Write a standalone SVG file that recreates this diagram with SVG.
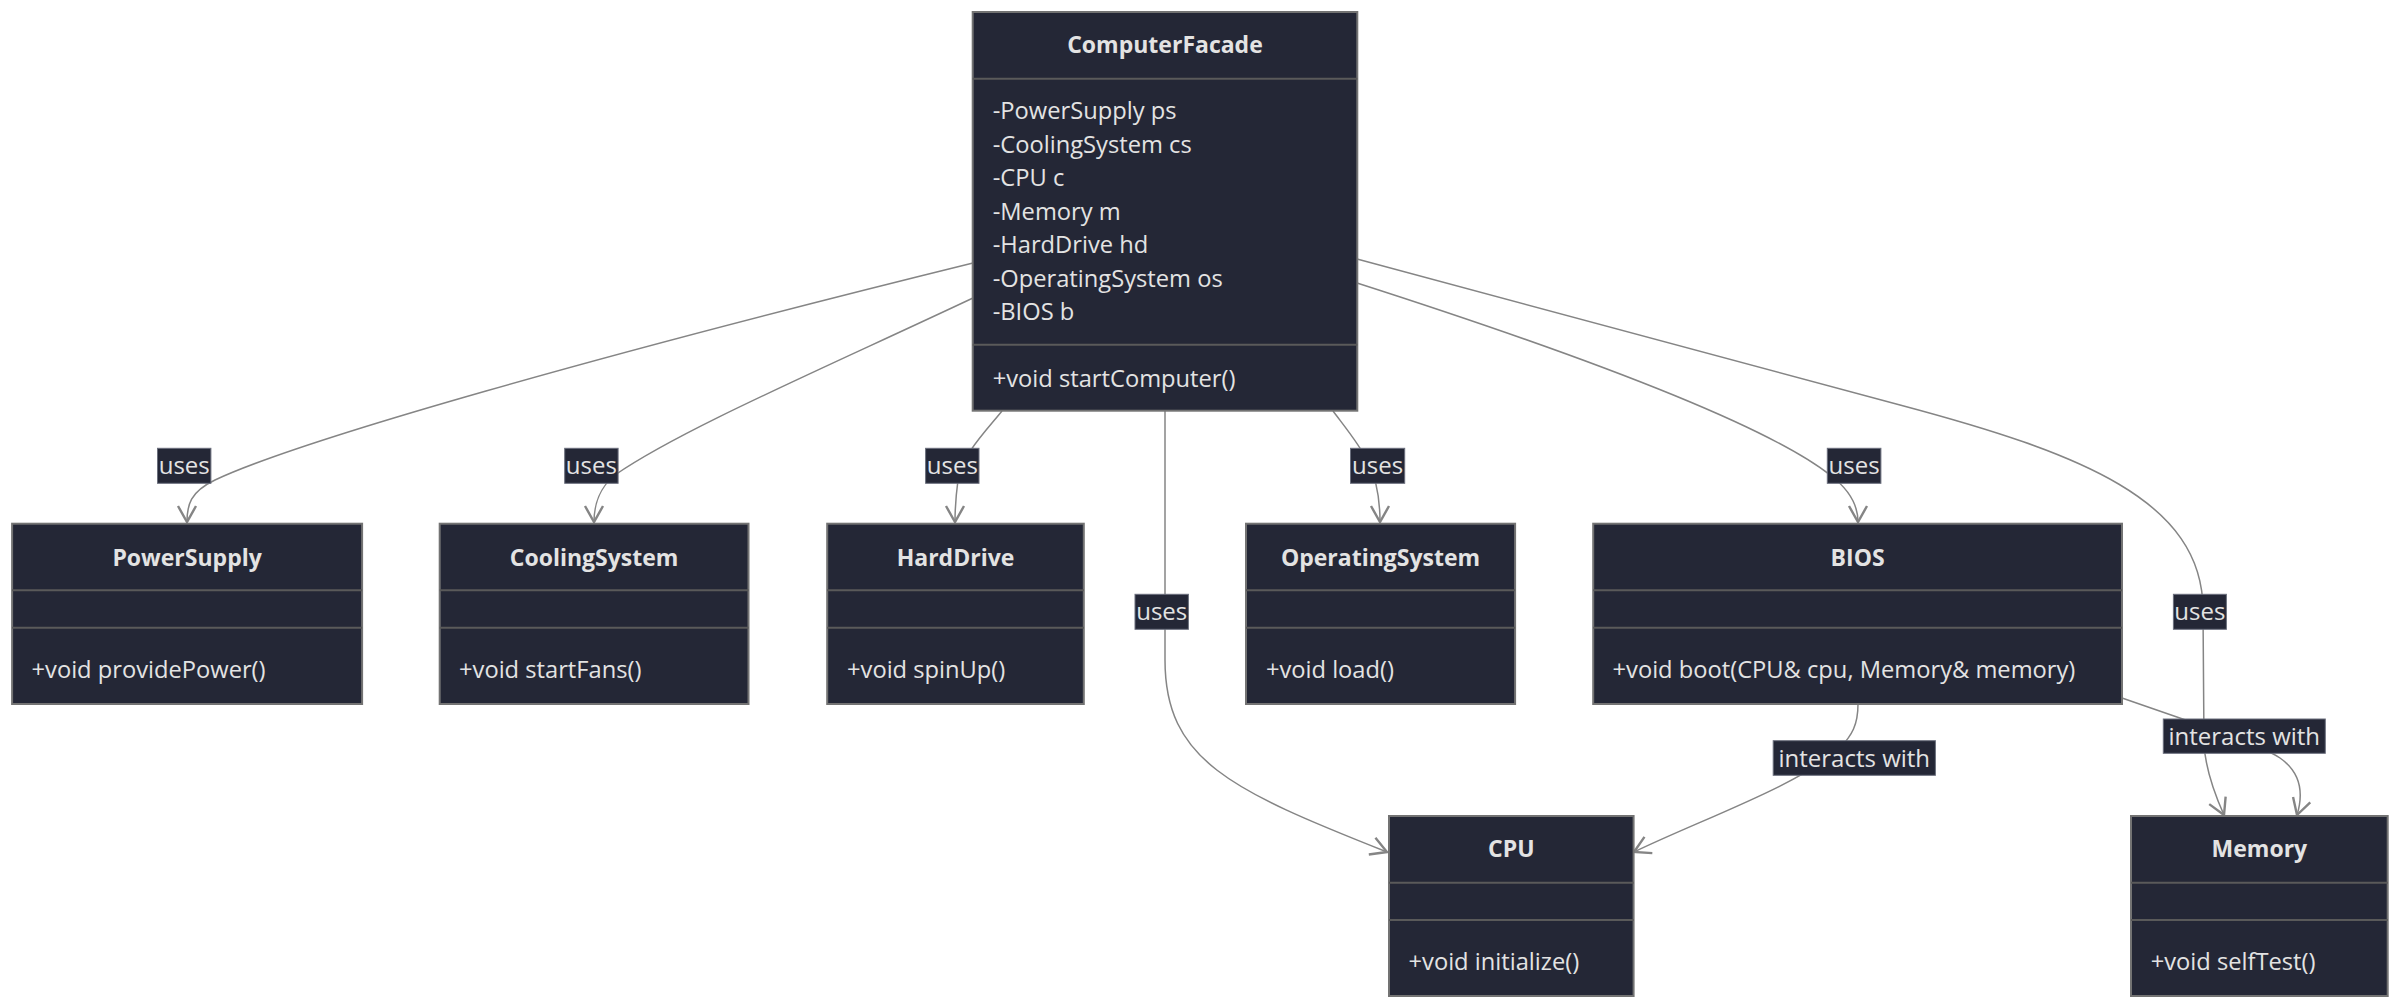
<svg xmlns="http://www.w3.org/2000/svg" width="2400" height="1008" viewBox="0 0 2400 1008">
<defs>
<marker id="arr" viewBox="-2 -2 22 24" markerWidth="22" markerHeight="24" refX="16" refY="10" orient="auto" markerUnits="userSpaceOnUse">
<path d="M0,1 L16,10 L0,19" fill="none" stroke="#858585" stroke-width="2.4"/>
</marker>
</defs>
<style>
.box{fill:#242736;stroke:#737373;stroke-width:2}
.div{stroke:#5a5a5a;stroke-width:2}
.t{font-family:"Open Sans","Noto Sans","DejaVu Sans",sans-serif;font-size:23.7px;fill:#e3e3e3}
.b{font-weight:bold;text-anchor:middle;font-size:23px}
.e{fill:none;stroke:#858585;stroke-width:1.5}
.lb{fill:#242736;stroke:#6b6f7d;stroke-width:1}
.lt{font-family:"Open Sans","Noto Sans","DejaVu Sans",sans-serif;font-size:24px;fill:#e3e3e3;text-anchor:middle}
</style>
<rect width="2400" height="1008" fill="#ffffff"/>
<g id="connectors">
<path class="e" marker-end="url(#arr)" d="M973,263 C600,355 300,440 215,480 C190,492 187,505 187,522"/>
<path class="e" marker-end="url(#arr)" d="M973,298 C820,370 680,430 615,475 C600,487 594,505 594,522"/>
<path class="e" marker-end="url(#arr)" d="M1002,411 C985,432 962,455 958,480 C956,495 955,510 955,522"/>
<path class="e" marker-end="url(#arr)" d="M1165,411 L1165,660 C1165,760 1230,790 1387,852"/>
<path class="e" marker-end="url(#arr)" d="M1333,411 C1345,427 1360,445 1368,462 C1376,478 1380,500 1380,522"/>
<path class="e" marker-end="url(#arr)" d="M1357,283 C1550,345 1760,420 1830,475 C1850,490 1858,505 1858,522"/>
<path class="e" marker-end="url(#arr)" d="M1357,259 L1900,405 C2080,453 2203,500 2203,610 L2204,745 C2206,772 2215,795 2224,815"/>
<path class="e" marker-end="url(#arr)" d="M1858,704 C1858,725 1852,735 1840,748 C1800,785 1700,820 1634,852"/>
<path class="e" marker-end="url(#arr)" d="M2122,698 L2200,725 C2240,740 2265,748 2280,758 C2300,772 2304,792 2297,815"/>
<g id="edge-labels">
<rect class="lb" x="157.5" y="448.3" width="53.4" height="35"/><text class="lt" x="184.2" y="474">uses</text>
<rect class="lb" x="564.7" y="448.3" width="53.4" height="35"/><text class="lt" x="591.4" y="474">uses</text>
<rect class="lb" x="925.6" y="448.3" width="53.4" height="35"/><text class="lt" x="952.3" y="474">uses</text>
<rect class="lb" x="1135" y="594.3" width="53.4" height="35"/><text class="lt" x="1161.7" y="620">uses</text>
<rect class="lb" x="1350.5" y="448.3" width="54.2" height="35"/><text class="lt" x="1377.6" y="474">uses</text>
<rect class="lb" x="1827.3" y="448.3" width="53.6" height="35"/><text class="lt" x="1854.1" y="474">uses</text>
<rect class="lb" x="2173.4" y="594.3" width="53" height="35"/><text class="lt" x="2199.9" y="620">uses</text>
<rect class="lb" x="1773.2" y="740.7" width="162.2" height="34.6"/><text class="lt" x="1854.3" y="766.5">interacts with</text>
<rect class="lb" x="2163.3" y="719" width="162" height="34.3"/><text class="lt" x="2244.3" y="744.7">interacts with</text>
</g>
</g>
<g id="ComputerFacade">
<rect class="box" x="972.7" y="12" width="384.6" height="398.7"/>
<line class="div" x1="972.7" y1="78.7" x2="1357.3" y2="78.7"/>
<line class="div" x1="972.7" y1="344.7" x2="1357.3" y2="344.7"/>
<text class="t b" x="1165" y="53">ComputerFacade</text>
<text class="t" x="992.7" y="119">-PowerSupply ps</text>
<text class="t" x="992.7" y="152.5">-CoolingSystem cs</text>
<text class="t" x="992.7" y="186">-CPU c</text>
<text class="t" x="992.7" y="219.5">-Memory m</text>
<text class="t" x="992.7" y="253">-HardDrive hd</text>
<text class="t" x="992.7" y="286.5">-OperatingSystem os</text>
<text class="t" x="992.7" y="320">-BIOS b</text>
<text class="t" x="992.7" y="386.7">+void startComputer()</text>
</g>
<g id="PowerSupply">
<rect class="box" x="12.1" y="523.7" width="350" height="180.3"/>
<line class="div" x1="12.1" y1="590.3" x2="362.1" y2="590.3"/>
<line class="div" x1="12.1" y1="627.7" x2="362.1" y2="627.7"/>
<text class="t b" x="187.1" y="565.7">PowerSupply</text>
<text class="t" x="31.5" y="678.3">+void providePower()</text>
</g>
<g id="CoolingSystem">
<rect class="box" x="439.7" y="523.7" width="308.8" height="180.3"/>
<line class="div" x1="439.7" y1="590.3" x2="748.5" y2="590.3"/>
<line class="div" x1="439.7" y1="627.7" x2="748.5" y2="627.7"/>
<text class="t b" x="594.1" y="565.7">CoolingSystem</text>
<text class="t" x="459" y="678.3">+void startFans()</text>
</g>
<g id="HardDrive">
<rect class="box" x="827.2" y="523.7" width="256.6" height="180.3"/>
<line class="div" x1="827.2" y1="590.3" x2="1083.8" y2="590.3"/>
<line class="div" x1="827.2" y1="627.7" x2="1083.8" y2="627.7"/>
<text class="t b" x="955.5" y="565.7">HardDrive</text>
<text class="t" x="847" y="678.3">+void spinUp()</text>
</g>
<g id="OperatingSystem">
<rect class="box" x="1246" y="523.7" width="269.1" height="180.3"/>
<line class="div" x1="1246" y1="590.3" x2="1515.1" y2="590.3"/>
<line class="div" x1="1246" y1="627.7" x2="1515.1" y2="627.7"/>
<text class="t b" x="1380.5" y="565.7">OperatingSystem</text>
<text class="t" x="1265.9" y="678.3">+void load()</text>
</g>
<g id="BIOS">
<rect class="box" x="1593.2" y="523.7" width="528.8" height="180.3"/>
<line class="div" x1="1593.2" y1="590.3" x2="2122" y2="590.3"/>
<line class="div" x1="1593.2" y1="627.7" x2="2122" y2="627.7"/>
<text class="t b" x="1857.6" y="565.7">BIOS</text>
<text class="t" x="1612.5" y="678.3">+void boot(CPU&amp; cpu, Memory&amp; memory)</text>
</g>
<g id="CPU">
<rect class="box" x="1389" y="816" width="244.6" height="180"/>
<line class="div" x1="1389" y1="882.7" x2="1633.6" y2="882.7"/>
<line class="div" x1="1389" y1="920" x2="1633.6" y2="920"/>
<text class="t b" x="1511.3" y="856.7">CPU</text>
<text class="t" x="1408.5" y="970">+void initialize()</text>
</g>
<g id="Memory">
<rect class="box" x="2131" y="816" width="256.7" height="180"/>
<line class="div" x1="2131" y1="882.7" x2="2387.7" y2="882.7"/>
<line class="div" x1="2131" y1="920" x2="2387.7" y2="920"/>
<text class="t b" x="2259.4" y="856.7">Memory</text>
<text class="t" x="2150.7" y="970">+void selfTest()</text>
</g>
</svg>
